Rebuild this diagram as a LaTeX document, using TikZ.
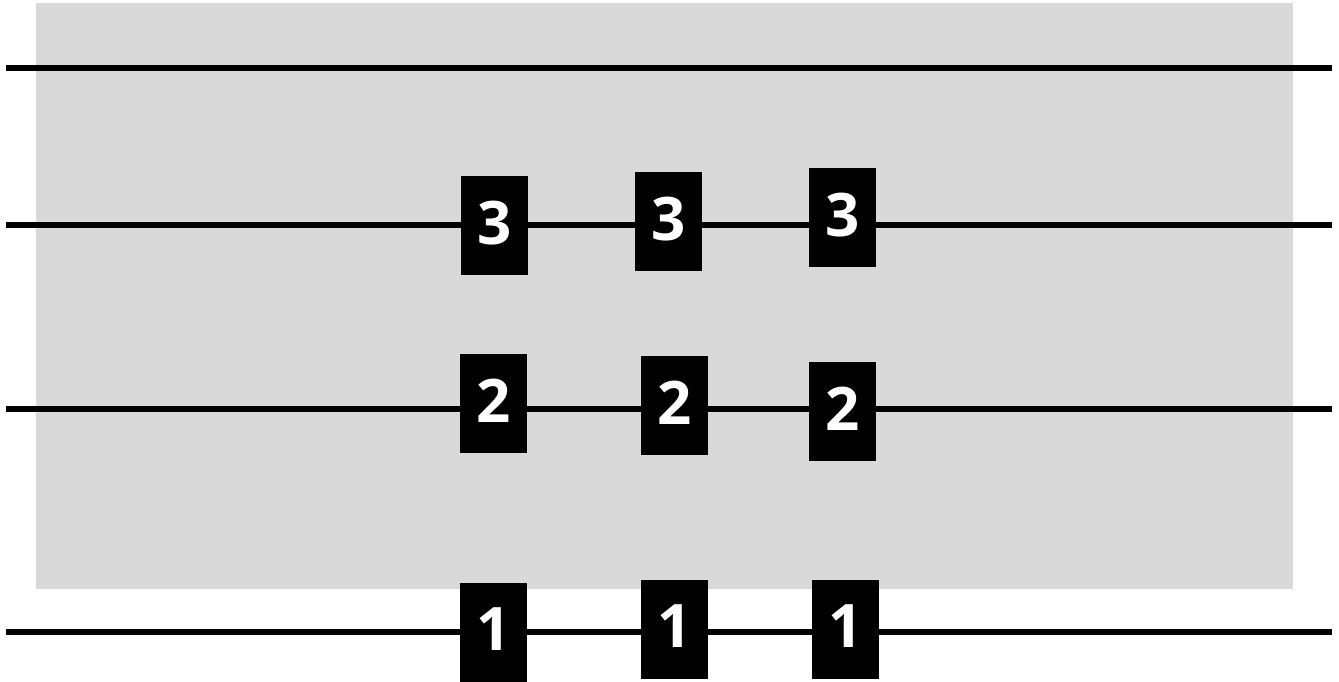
\documentclass[tikz,border=0pt]{standalone}
\usepackage{fontspec}
\setmainfont{Open Sans}[UprightFont=* Bold]
\definecolor{bggray}{HTML}{D9D9D9}
\begin{document}
\begin{tikzpicture}[x=1pt,y=-1pt,
  wire/.style={line width=6.5pt},
  gatebox/.style={fill=black,text=white,inner sep=0pt,minimum width=67pt,minimum height=99pt,font=\fontsize{60}{60}\selectfont,text depth=6pt}]
\useasboundingbox (0,0) rectangle (1339,681);
\fill[bggray] (36,3) rectangle (1293,589);
% wires
\foreach \n/\y in {a/68,b/225,c/409,d/632}{
  \coordinate (\n s) at (6,\y);
  \coordinate (\n e) at (1332,\y);
  \draw[wire] (\n s) -- (\n e);
}
% row 3
\node[gatebox] (g31) at (494.5,225.5) {3};
\node[gatebox] (g32) at (668.5,221.5) {3};
\node[gatebox] (g33) at (842.5,217.5) {3};
% row 2
\node[gatebox] (g21) at (493.5,403.5) {2};
\node[gatebox] (g22) at (674.5,405.5) {2};
\node[gatebox] (g23) at (842.5,411.5) {2};
% row 1
\node[gatebox] (g11) at (493.5,632.5) {1};
\node[gatebox] (g12) at (674.5,629.5) {1};
\node[gatebox] (g13) at (845.5,629.5) {1};
\end{tikzpicture}
\end{document}
